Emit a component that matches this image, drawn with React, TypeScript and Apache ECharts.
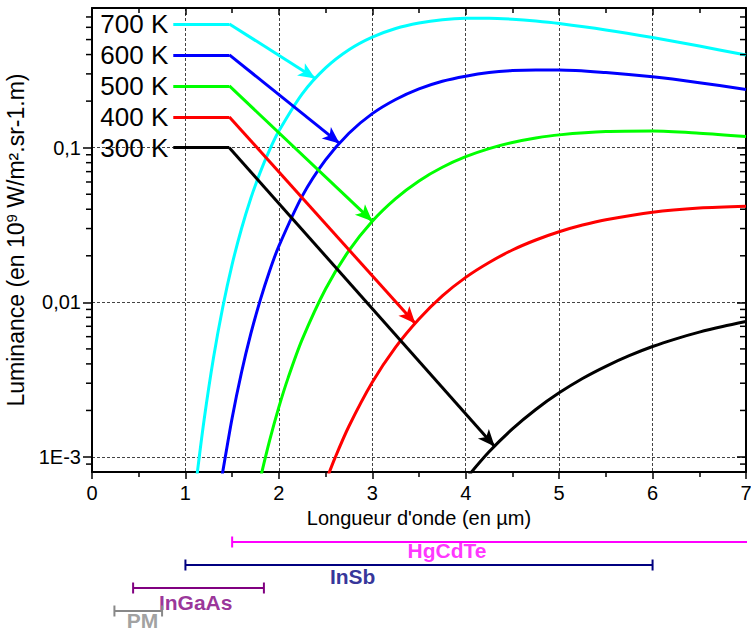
import React, { useEffect, useRef } from 'react';
import * as echarts from 'echarts';

const FONT = '"Liberation Sans", Arial, Helvetica, sans-serif';

// Temperatures, colours
const temperatures = ['700 K', '600 K', '500 K', '400 K', '300 K'];
const curveColors = ['#00ffff', '#0000ff', '#00ff00', '#ff0000', '#000000'];

// Spectral luminance curves (λ in µm, luminance in 10^9 W/m².sr-1.m)
const lambda700 = [1.12, 1.2, 1.3, 1.4, 1.5, 1.6, 1.7, 1.8, 1.9, 2.0, 2.25, 2.5, 2.75, 3.0, 3.25, 3.5, 3.75, 4.0, 4.25, 4.5, 4.75, 5.0, 5.5, 6.0, 6.5, 7.0];
const lum700 = [0.00073, 0.00174, 0.00436, 0.00932, 0.0176, 0.0299, 0.0471, 0.0692, 0.0964, 0.128, 0.223, 0.328, 0.43, 0.519, 0.59, 0.64, 0.672, 0.686, 0.687, 0.677, 0.659, 0.635, 0.577, 0.515, 0.454, 0.397];

const lambda600 = [1.38, 1.4, 1.5, 1.6, 1.7, 1.8, 1.9, 2.0, 2.25, 2.5, 2.75, 3.0, 3.25, 3.5, 3.75, 4.0, 4.25, 4.5, 4.75, 5.0, 5.5, 6.0, 6.5, 7.0];
const lum600 = [0.000676, 0.000806, 0.00179, 0.00352, 0.00627, 0.0103, 0.0159, 0.0231, 0.0486, 0.0833, 0.124, 0.166, 0.205, 0.24, 0.269, 0.29, 0.306, 0.315, 0.318, 0.318, 0.306, 0.287, 0.263, 0.238];

const lambda500 = [1.8, 1.9, 2.0, 2.1, 2.25, 2.5, 2.75, 3.0, 3.25, 3.5, 3.75, 4.0, 4.25, 4.5, 4.75, 5.0, 5.5, 6.0, 6.5, 7.0];
const lum500 = [0.000719, 0.00127, 0.0021, 0.00326, 0.00576, 0.0122, 0.0216, 0.0335, 0.0469, 0.061, 0.0747, 0.0874, 0.0986, 0.108, 0.1155, 0.121, 0.127, 0.128, 0.124, 0.118];

const lambda400 = [2.5, 2.6, 2.75, 3.0, 3.25, 3.5, 3.75, 4.0, 4.25, 4.5, 4.75, 5.0, 5.25, 5.5, 6.0, 6.5, 7.0];
const lum400 = [0.000688, 0.000983, 0.00158, 0.00304, 0.00513, 0.0078, 0.011, 0.0145, 0.0181, 0.0218, 0.0253, 0.0286, 0.0316, 0.0342, 0.0383, 0.0407, 0.0418];

const lambda300 = [4.0, 4.25, 4.5, 4.75, 5.0, 5.25, 5.5, 5.75, 6.0, 6.25, 6.5, 6.75, 7.0];
const lum300 = [0.000722, 0.00108, 0.00152, 0.00203, 0.0026, 0.00322, 0.00386, 0.00452, 0.00518, 0.00581, 0.00642, 0.00698, 0.00751];

const curveLambdas = [lambda700, lambda600, lambda500, lambda400, lambda300];
const curveLums = [lum700, lum600, lum500, lum400, lum300];

// Legend keys with arrows pointing to each curve
const legendLambdaStart = 0.87;
const legendLambdaEnd = 1.47;
const legendLevels = [0.631, 0.398, 0.251, 0.158, 0.1];
const arrowTipLambda = [2.39, 2.65, 3.0, 3.46, 4.31];
const arrowTipLum = [0.28, 0.1066, 0.0335, 0.0073, 0.00117];

// Axis ticks
const xTickLabels = ['0', '1', '2', '3', '4', '5', '6', '7'];
const yTickLabels: Record<string, string> = { '-3': '1E-3', '-2': '0,01', '-1': '0,1' };
const yMinorTicks = [0.0009, 0.002, 0.003, 0.004, 0.005, 0.006, 0.007, 0.008, 0.009, 0.02, 0.03, 0.04, 0.05, 0.06, 0.07, 0.08, 0.09, 0.2, 0.3, 0.4, 0.5, 0.6, 0.7];

// Detector spectral ranges (µm)
const detectorNames = ['HgCdTe', 'InSb', 'InGaAs', 'PM'];
const detectorStart = [1.5, 1.0, 0.44, 0.24];
const detectorEnd = [7.3, 6.0, 1.84, 0.75];
const detectorRow = [4, 3, 2, 1];
const detectorLabelLambda = [3.8, 2.79, 1.11, 0.54];
const detectorLabelRow = [3.63, 2.52, 1.37, 0.6];
const detectorColors = ['#ff00ff', '#000080', '#800080', '#888888'];

const axisLineStyle = { color: '#000', width: 2 };
const tickLineStyle = { color: '#000', width: 1.5 };
const gridLineStyle = { color: '#444', width: 1, type: [3, 2] as number[] };

function buildOption() {
  const curveSeries = temperatures.map((t, i) => ({
    type: 'line',
    name: t,
    xAxisIndex: 0,
    yAxisIndex: 0,
    data: curveLambdas[i].map((l, k) => [l, curveLums[i][k]]),
    symbol: 'none',
    showSymbol: false,
    smooth: 0.3,
    clip: true,
    z: 3,
    lineStyle: { color: curveColors[i], width: 3 },
    itemStyle: { color: curveColors[i] },
    emphasis: { disabled: true },
    markLine: {
      silent: true,
      animation: false,
      symbol: ['none', 'none'],
      precision: 5,
      lineStyle: { color: curveColors[i], width: 3, type: 'solid' },
      emphasis: { disabled: true },
      label: { show: false },
      data: [
        [
          {
            coord: [legendLambdaStart, legendLevels[i]],
            label: {
              show: true,
              position: 'start',
              formatter: t,
              fontSize: 26,
              color: '#000',
              fontFamily: FONT,
              distance: 5,
            },
          },
          { coord: [legendLambdaEnd, legendLevels[i]] },
        ],
        [
          { coord: [legendLambdaEnd, legendLevels[i]], label: { show: false } },
          { coord: [arrowTipLambda[i], arrowTipLum[i]], symbol: 'arrow', symbolSize: [11, 17] },
        ],
      ],
    },
  }));

  const minorTickSeries = {
    type: 'custom',
    xAxisIndex: 0,
    yAxisIndex: 0,
    silent: true,
    clip: false,
    z: 10,
    data: yMinorTicks.map((v) => [0, v]),
    renderItem: (_params: any, api: any) => {
      const v = api.value(1);
      const pL = api.coord([0, v]);
      const pR = api.coord([7, v]);
      return {
        type: 'group',
        children: [
          { type: 'line', shape: { x1: pL[0] - 6, y1: pL[1], x2: pL[0], y2: pL[1] }, style: { stroke: '#000', lineWidth: 1.5 } },
          { type: 'line', shape: { x1: pR[0] - 6, y1: pR[1], x2: pR[0], y2: pR[1] }, style: { stroke: '#000', lineWidth: 1.5 } },
        ],
      };
    },
  };

  const detectorSeries = detectorNames.map((n, i) => ({
    type: 'line',
    name: n,
    xAxisIndex: 2,
    yAxisIndex: 2,
    data: [
      [detectorStart[i], detectorRow[i]],
      [detectorEnd[i], detectorRow[i]],
    ],
    symbol: 'rect',
    symbolSize: [2, 11],
    showSymbol: true,
    clip: true,
    lineStyle: { color: detectorColors[i], width: 2 },
    itemStyle: { color: detectorColors[i] },
    emphasis: { disabled: true },
    silent: true,
  }));

  const detectorLabels = {
    type: 'scatter',
    xAxisIndex: 2,
    yAxisIndex: 2,
    symbolSize: 0,
    silent: true,
    data: detectorNames.map((n, i) => ({
      value: [detectorLabelLambda[i], detectorLabelRow[i]],
      label: { formatter: n, color: detectorColors[i] },
    })),
    label: {
      show: true,
      position: 'inside',
      fontSize: 21,
      fontWeight: 'bold',
      fontFamily: FONT,
    },
  };

  return {
    animation: false,
    backgroundColor: '#ffffff',
    textStyle: { fontFamily: FONT },
    grid: [
      { left: 92, top: 8, width: 654, height: 464, outerBoundsMode: 'none' },
      { left: 92, top: 519, width: 654, height: 115, outerBoundsMode: 'none' },
    ],
    xAxis: [
      {
        type: 'value',
        gridIndex: 0,
        position: 'bottom',
        min: 0,
        max: 7,
        interval: 1,
        axisLine: { show: true, onZero: false, lineStyle: axisLineStyle },
        axisTick: { show: true, inside: false, length: 7, lineStyle: tickLineStyle },
        minorTick: { show: true, splitNumber: 2, length: 5, lineStyle: tickLineStyle },
        axisLabel: {
          color: '#000',
          fontSize: 20,
          margin: 11,
          formatter: (v: number) => xTickLabels[Math.round(v)] ?? '',
        },
        splitLine: { show: true, lineStyle: gridLineStyle },
        name: "Longueur d'onde (en µm)",
        nameLocation: 'middle',
        nameGap: 30,
        nameTextStyle: { fontSize: 20, color: '#000' },
      },
      {
        type: 'value',
        gridIndex: 0,
        position: 'top',
        min: 0,
        max: 7,
        interval: 1,
        axisLine: { show: true, onZero: false, lineStyle: axisLineStyle },
        axisTick: { show: true, inside: true, length: 7, lineStyle: tickLineStyle },
        minorTick: { show: true, splitNumber: 2, length: 5, lineStyle: tickLineStyle },
        axisLabel: { show: false },
        splitLine: { show: false },
      },
      { type: 'value', gridIndex: 1, min: 0, max: 7, show: false },
    ],
    yAxis: [
      {
        type: 'log',
        logBase: 10,
        gridIndex: 0,
        position: 'left',
        min: 0.0008,
        max: 0.8,
        axisLine: { show: true, onZero: false, lineStyle: axisLineStyle },
        axisTick: { show: true, inside: false, length: 9, lineStyle: tickLineStyle },
        axisLabel: {
          color: '#000',
          fontSize: 20,
          margin: 11,
          showMinLabel: false,
          showMaxLabel: false,
          formatter: (v: number) => {
            const l = Math.log10(v);
            const e = Math.round(l);
            if (Math.abs(l - e) > 1e-6) return '';
            return yTickLabels[String(e)] ?? '';
          },
        },
        splitLine: { show: true, lineStyle: gridLineStyle },
        name: '{a|Luminance (en 10}{s|9}{a| W/m².sr-1.m)}',
        nameLocation: 'middle',
        nameGap: 54,
        nameTextStyle: {
          color: '#000',
          rich: {
            a: { fontSize: 23, color: '#000', fontFamily: FONT },
            s: { fontSize: 15, color: '#000', fontFamily: FONT, verticalAlign: 'top', padding: [0, 0, 9, 0] },
          },
        },
      },
      {
        type: 'log',
        logBase: 10,
        gridIndex: 0,
        position: 'right',
        min: 0.0008,
        max: 0.8,
        axisLine: { show: true, onZero: false, lineStyle: axisLineStyle },
        axisTick: { show: true, inside: true, length: 9, lineStyle: tickLineStyle },
        axisLabel: { show: false },
        splitLine: { show: false },
      },
      { type: 'value', gridIndex: 1, min: 0, max: 5, show: false },
    ],
    series: [...curveSeries, minorTickSeries, ...detectorSeries, detectorLabels],
  };
}

export default function App() {
  const ref = useRef<HTMLDivElement>(null);
  useEffect(() => {
    if (!ref.current) return;
    const chart = echarts.init(ref.current, undefined, { renderer: 'svg' });
    chart.setOption(buildOption() as any);
    return () => chart.dispose();
  }, []);
  return (
    <div
      ref={ref}
      style={{ position: 'fixed', left: 0, top: 0, width: 751, height: 632, background: '#fff' }}
    />
  );
}
